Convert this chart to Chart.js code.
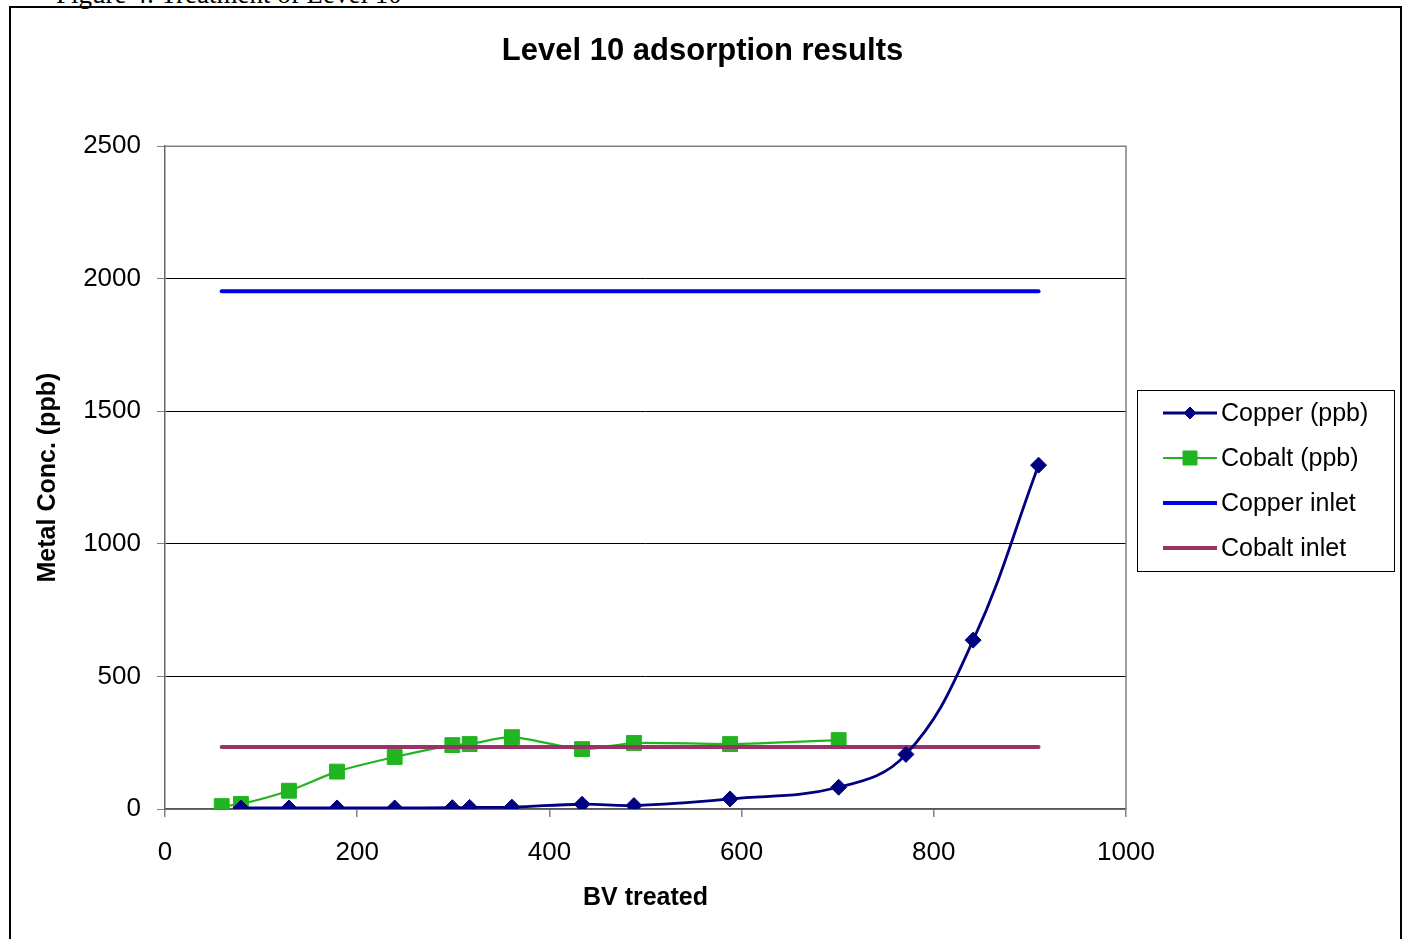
<!DOCTYPE html>
<html>
<head>
<meta charset="utf-8">
<script src="https://cdn.jsdelivr.net/npm/chart.js@4/dist/chart.umd.min.js"></script>
<style>
  html, body { margin:0; padding:0; background:#fff; overflow:hidden; }
  #frame { position:absolute; left:9px; top:6px; width:1389px; height:1000px; border:2px solid #000; }
  #caption { position:absolute; left:56px; top:-19px; font-family:"Liberation Serif","Times New Roman",serif; font-size:27px; line-height:27px; color:#000; white-space:nowrap; }
  #c { position:absolute; left:0; top:0; }
</style>
</head>
<body>
<div id="caption">Figure 4: Treatment of Level 10</div>
<div id="frame"></div>
<canvas id="c" width="1405" height="939"></canvas>
<script>
// ---- data ----
const chartTitle = "Level 10 adsorption results";
const xAxisTitle = "BV treated";
const yAxisTitle = "Metal Conc. (ppb)";
const seriesNames = ["Copper (ppb)", "Cobalt (ppb)", "Copper inlet", "Cobalt inlet"];

const copperBV  = [79, 129, 179, 239, 299, 317, 361, 434, 488, 588, 701, 771, 841, 909];
const copperPpb = [4, 4, 4, 4, 5, 6, 7, 18, 13, 38, 82, 206, 637, 1297];

const cobaltBV  = [59, 79, 129, 179, 239, 299, 317, 361, 434, 488, 588, 701];
const cobaltPpb = [11, 19, 69, 141, 196, 241, 245, 271, 226, 249, 245, 260];

const inletBV        = [59, 909];
const copperInletPpb = [1953, 1953];
const cobaltInletPpb = [234, 234];

const xTicksMinMax = [0, 1000, 200];
const yTicksMinMax = [0, 2500, 500];

function pts(xs, ys) { return xs.map((x, i) => ({ x: x, y: ys[i] })); }

const FONT = '"Liberation Sans", Arial, sans-serif';

// Plot border (top and right in gray)
const plotBorder = {
  id: 'plotBorder',
  beforeDatasetsDraw(chart) {
    const a = chart.chartArea, ctx = chart.ctx;
    ctx.save();
    ctx.strokeStyle = '#808080';
    ctx.lineWidth = 1.5;
    ctx.beginPath();
    ctx.moveTo(a.left, a.top);
    ctx.lineTo(a.right, a.top);
    ctx.lineTo(a.right, a.bottom);
    ctx.stroke();
    ctx.restore();
  }
};

function drawMarker(ctx, style, x, y, r, color) {
  ctx.fillStyle = color;
  ctx.strokeStyle = color;
  ctx.lineWidth = 1;
  ctx.beginPath();
  if (style === 'rectRot') {
    ctx.moveTo(x, y - r); ctx.lineTo(x + r, y); ctx.lineTo(x, y + r); ctx.lineTo(x - r, y);
  } else if (style === 'rect') {
    ctx.rect(x - r, y - r, 2 * r, 2 * r);
  }
  ctx.closePath();
  ctx.fill();
  ctx.stroke();
}

// Boxed legend at right
const boxLegend = {
  id: 'boxLegend',
  afterDraw(chart) {
    const ctx = chart.ctx;
    ctx.save();
    ctx.fillStyle = '#fff';
    ctx.fillRect(1137, 390, 257, 181);
    ctx.strokeStyle = '#000';
    ctx.lineWidth = 1;
    ctx.strokeRect(1137.5, 390.5, 257, 181);
    const legendMarkerR = [6, 7, 0, 0];
    chart.data.datasets.forEach((ds, i) => {
      const y = 413 + 45 * i;
      ctx.strokeStyle = ds.borderColor;
      ctx.lineWidth = ds.borderWidth;
      ctx.lineCap = 'butt';
      ctx.beginPath();
      ctx.moveTo(1163, y);
      ctx.lineTo(1217, y);
      ctx.stroke();
      if (legendMarkerR[i] > 0) drawMarker(ctx, ds.pointStyle, 1190, y, legendMarkerR[i], ds.borderColor);
      ctx.fillStyle = '#000';
      ctx.font = '25px ' + FONT;
      ctx.textAlign = 'left';
      ctx.textBaseline = 'middle';
      ctx.fillText(ds.label, 1221, y + 1);
    });
    ctx.restore();
  }
};

const plainTick = (v) => String(v);

new Chart(document.getElementById('c'), {
  type: 'line',
  data: {
    datasets: [
      {
        label: seriesNames[0], data: pts(copperBV, copperPpb),
        borderColor: '#000080', backgroundColor: '#000080', borderWidth: 2.8,
        pointStyle: 'rectRot', pointRadius: 8, pointBorderWidth: 1,
        tension: 0.4, order: 0
      },
      {
        label: seriesNames[1], data: pts(cobaltBV, cobaltPpb),
        borderColor: '#21b521', backgroundColor: '#21b521', borderWidth: 2.2,
        pointStyle: 'rect', pointRadius: 10.5, pointBorderWidth: 1,
        tension: 0.25, order: 2
      },
      {
        label: seriesNames[2], data: pts(inletBV, copperInletPpb),
        borderColor: '#0000e6', backgroundColor: '#0000e6', borderWidth: 4,
        borderCapStyle: 'round', pointRadius: 0, order: 3
      },
      {
        label: seriesNames[3], data: pts(inletBV, cobaltInletPpb),
        borderColor: '#993366', backgroundColor: '#993366', borderWidth: 4,
        borderCapStyle: 'round', pointRadius: 0, order: 1
      }
    ]
  },
  options: {
    responsive: false,
    animation: false,
    devicePixelRatio: 1,
    layout: { padding: { left: 0, right: 0, top: 0, bottom: 0 } },
    plugins: {
      legend: { display: false },
      tooltip: { enabled: false },
      title: {
        display: true, text: chartTitle, color: '#000',
        font: { family: FONT, size: 31, weight: 'bold' },
        padding: { top: 33, bottom: 76 }
      }
    },
    scales: {
      x: {
        type: 'linear', min: xTicksMinMax[0], max: xTicksMinMax[1],
        afterFit(s) { s.height = 130; },
        ticks: { stepSize: xTicksMinMax[2], callback: plainTick, color: '#000', padding: 20, font: { family: FONT, size: 26 } },
        grid: { drawOnChartArea: false, tickColor: '#808080', tickLength: 8, lineWidth: 1.5 },
        border: { color: '#555', width: 1.5 },
        title: { display: true, text: xAxisTitle, color: '#000', font: { family: FONT, size: 25, weight: 'bold' }, padding: { top: 0, bottom: 26 } }
      },
      y: {
        type: 'linear', min: yTicksMinMax[0], max: yTicksMinMax[1],
        afterFit(s) { s.width = 165; },
        ticks: { stepSize: yTicksMinMax[2], callback: plainTick, color: '#000', padding: 16, font: { family: FONT, size: 26 } },
        grid: {
          color: (c) => (c.tick && (c.tick.value === 0 || c.tick.value === 2500)) ? '#808080' : '#000',
          tickColor: '#808080', tickLength: 8, lineWidth: 1
        },
        border: { color: '#666', width: 1.5 },
        title: { display: true, text: yAxisTitle, color: '#000', font: { family: FONT, size: 25, weight: 'bold' }, padding: { top: 33, bottom: 0 } }
      },
      legendSpace: {
        type: 'linear', position: 'right', display: true,
        afterFit(s) { s.width = 279; },
        ticks: { display: false },
        grid: { display: false, drawTicks: false },
        border: { display: false }
      }
    }
  },
  plugins: [plotBorder, boxLegend]
});
</script>
</body>
</html>
